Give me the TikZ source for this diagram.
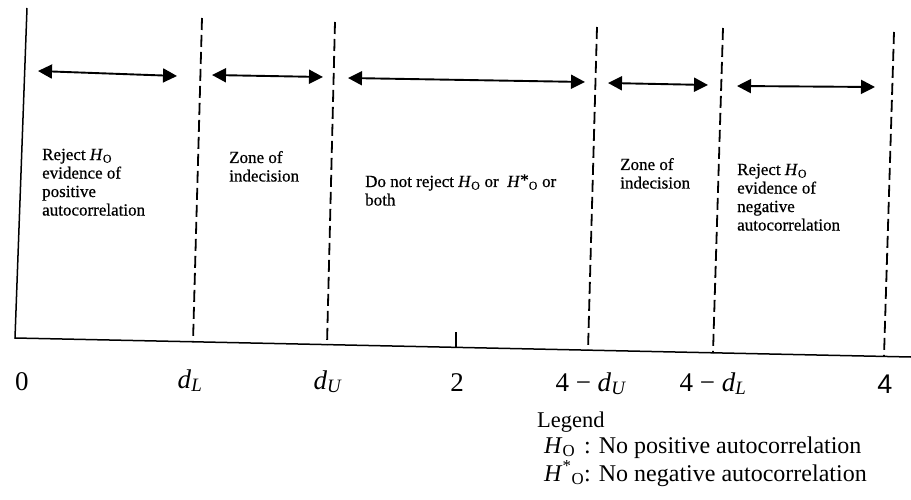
\documentclass[tikz,border=0pt]{standalone}
\usepackage{fontspec}
\setmainfont{Liberation Serif}
\newfontfamily\sansfam{Liberation Sans}
\newfontfamily\zonefont[FakeBold=0.6]{Liberation Serif}
\usetikzlibrary{arrows.meta}
\begin{document}
\begin{tikzpicture}[x=1pt,y=-1pt,
  axisline/.style={line width=1.5pt, line join=miter},
  divider/.style={line width=1.8pt, dash pattern=on 12pt off 5pt},
  span/.style={line width=1.9pt, {Triangle[length=14pt,width=14pt]}-{Triangle[length=14pt,width=14pt]}},
  zonetext/.style={anchor=base west, inner sep=0pt, align=left, font=\zonefont\fontsize{17}{18.5}\selectfont},
  ticklabel/.style={anchor=base, inner sep=0pt, font=\fontsize{27}{30}\selectfont},
  legendtext/.style={anchor=base west, inner sep=0pt, font=\fontsize{24}{28}\selectfont}]
\useasboundingbox (0,0) rectangle (911,500);
% axes
\coordinate (top0) at (27,8);
\coordinate (orig) at (15,338);
\coordinate (axend) at (911,357);
\draw[axisline] (top0) -- (orig) -- (axend);
% dividers
\coordinate (dLt) at (202,18);  \coordinate (dLb) at (193,342);
\coordinate (dUt) at (335,22);  \coordinate (dUb) at (327,345);
\coordinate (mUt) at (597,27);  \coordinate (mUb) at (588,350);
\coordinate (mLt) at (723,28);  \coordinate (mLb) at (713,353);
\coordinate (ft)  at (894,32);  \coordinate (fb)  at (884,356);
\draw[divider] (dLt) -- (dLb);
\draw[divider] (dUt) -- (dUb);
\draw[divider] (mUt) -- (mUb);
\draw[divider] (mLt) -- (mLb);
\draw[divider] (ft) -- (fb);
% tick at 2
\coordinate (tkt) at (456,332); \coordinate (tkb) at (456,347.5);
\draw[line width=1.5pt] (tkt) -- (tkb);
% spans
\coordinate (s1a) at (38,71);  \coordinate (s1b) at (177,76);
\coordinate (s2a) at (212,75); \coordinate (s2b) at (323,77);
\coordinate (s3a) at (348,78); \coordinate (s3b) at (585,82);
\coordinate (s4a) at (608,83); \coordinate (s4b) at (708,85);
\coordinate (s5a) at (737,86); \coordinate (s5b) at (875,87);
\draw[span] (s1a) -- (s1b);
\draw[span] (s2a) -- (s2b);
\draw[span] (s3a) -- (s3b);
\draw[span] (s4a) -- (s4b);
\draw[span] (s5a) -- (s5b);
% zone texts (anchor = baseline of last line)
\node[zonetext] (rejpos) at (42,215.5) {Reject \textit{H}\textsubscript{O}\\evidence of\\positive\\autocorrelation};
\node[zonetext] (zone1) at (229,181.5) {Zone of\\indecision};
\node[zonetext] (donot) at (365,205.5) {Do not reject \textit{H}\textsubscript{O} or\ \ \textit{H}\raisebox{0.2ex}{*}\textsubscript{O} or\\both};
\node[zonetext] (zone2) at (620,188.5) {Zone of\\indecision};
\node[zonetext] (rejneg) at (737,230.5) {Reject \textit{H}\textsubscript{O}\\evidence of\\negative\\autocorrelation};
% axis labels
\node[ticklabel] (l0) at (22,390) {0};
\node[ticklabel] (ldL) at (190,388) {\textit{d}\textsubscript{\textit{L}}};
\node[ticklabel] (ldU) at (328,389) {\textit{d}\textsubscript{\textit{U}}};
\node[ticklabel] (l2) at (457,391) {2};
\node[ticklabel] (l4dU) at (591,391) {4 − \textit{d}\textsubscript{\textit{U}}};
\node[ticklabel] (l4dL) at (713,391) {4 − \textit{d}\textsubscript{\textit{L}}};
\node[ticklabel] (l4) at (885,393) {\sansfam 4};
% legend
\node[legendtext, font=\fontsize{22.5}{27}\selectfont] (legh) at (537,427) {Legend};
\node[legendtext] (leg1) at (544,453) {\makebox[40pt][l]{\textit{H}\textsubscript{O}}: No positive autocorrelation};
\node[legendtext] (leg2) at (544,481) {\makebox[40pt][l]{\textit{H}\textsuperscript{*}\textsubscript{O}}: No negative autocorrelation};
\end{tikzpicture}
\end{document}
